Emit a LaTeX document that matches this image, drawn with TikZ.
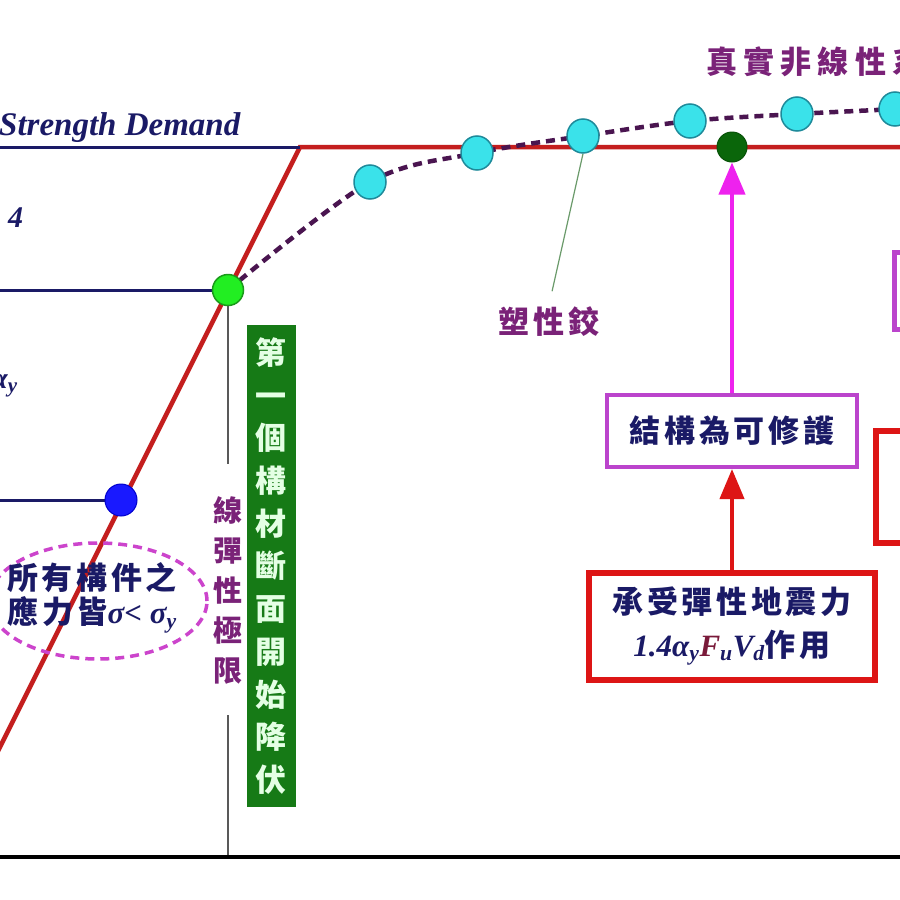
\RequirePackage{fix-cm}
\documentclass[tikz,border=0pt]{standalone}
\usepackage{fontspec}
\setmainfont{Liberation Serif}
\newfontfamily\cjk{Noto Sans CJK TC}
\usetikzlibrary{arrows.meta,shapes.geometric,backgrounds}
\definecolor{navy}{HTML}{1A1A66}
\definecolor{redline}{HTML}{C41E1E}
\definecolor{purp}{HTML}{7A2278}
\definecolor{dashpurp}{HTML}{4A1550}
\definecolor{cyanf}{HTML}{3AE2EA}
\definecolor{cyand}{HTML}{1E8A9A}
\definecolor{lgreen}{HTML}{22EE22}
\definecolor{lgreend}{HTML}{1A9A1A}
\definecolor{dgreen}{HTML}{167A16}
\definecolor{dkgreen}{HTML}{0A660A}
\definecolor{gtext}{HTML}{E4FFE4}
\definecolor{magarrow}{HTML}{EE22EE}
\definecolor{magbox}{HTML}{BB44CC}
\definecolor{boxred}{HTML}{DD1515}
\definecolor{ellmag}{HTML}{CC44CC}
\definecolor{Fmar}{HTML}{7A1A3A}
\definecolor{leadc}{HTML}{6A9A6A}
\begin{document}
\begin{tikzpicture}[x=1pt,y=-1pt,
  redl/.style={draw=redline, line width=4.5pt},
  navyl/.style={draw=navy, line width=3pt},
  grayl/.style={draw=black!65, line width=1.5pt},
  hinge/.style={ellipse, draw=cyand, line width=1.5pt, fill=cyanf, minimum width=32pt, minimum height=34pt, inner sep=0pt},
  hz/.style={font=\cjk\bfseries\fontsize{31}{34}\selectfont\addfontfeature{LetterSpace=12}},
  vz/.style={font=\cjk\bfseries\fontsize{30}{40}\selectfont, align=center, inner sep=0pt},
  latin/.style={font=\bfseries\itshape\fontsize{30}{34}\selectfont, text=navy},
  boxtext/.style={text=navy, align=center, font=\fontsize{31}{43}\selectfont},
]
\useasboundingbox (0,0) rectangle (900,900);

% circles
\node[circle, draw=lgreend, line width=1.5pt, fill=lgreen, minimum size=31pt, inner sep=0pt] (g1) at (228,290) {};
\node[circle, draw=blue!80!black, line width=1pt, fill=blue!90!white, minimum size=32pt, inner sep=0pt] (b1) at (121,500) {};
\node[hinge] (h1) at (370,182) {};
\node[hinge] (h2) at (477,153) {};
\node[hinge] (h3) at (583,136) {};
\node[hinge] (h4) at (690,121) {};
\node[hinge] (h5) at (797,114) {};
\node[hinge] (h6) at (895,109) {};
\node[circle, draw=dkgreen!80!black, line width=1pt, fill=dkgreen, minimum size=30pt, inner sep=0pt] (dg) at (732,147) {};

% coordinates
\coordinate (yk) at (300,147);
\coordinate (rl0) at (-20,787);
\coordinate (rlE) at (920,147);
\coordinate (n1) at (0,147);
\coordinate (n2) at (0,290);
\coordinate (n3) at (0,500);
\coordinate (gv1) at (228,464);
\coordinate (gv2) at (228,715);
\coordinate (gv3) at (228,857);
\coordinate (ax0) at (0,857);
\coordinate (ax1) at (900,857);
\coordinate (cend) at (930,106);

% texts
\node[latin, font=\bfseries\itshape\fontsize{33}{36}\selectfont, anchor=base west, inner sep=0pt] (sd) at (-1,135) {Strength Demand};
\node[latin, anchor=base west, inner sep=0pt] (four) at (8,227) {4};
\node[latin, anchor=base west, inner sep=0pt] (ay) at (-9,388) {α\textsubscript{y}};

\node[hz, text=purp, anchor=west, inner sep=0pt, font=\cjk\bfseries\fontsize{31}{34}\selectfont\addfontfeature{LetterSpace=20}] (title) at (706,62) {真實非線性系};
\node[hz, text=purp, inner sep=2pt] (plabel) at (549,322) {塑性鉸};

\node[vz, fill=dgreen, text=gtext, minimum width=49pt, minimum height=482pt, font=\cjk\bfseries\fontsize{31}{42.7}\selectfont] (gbox) at (271,566) {第\\一\\個\\構\\材\\斷\\面\\開\\始\\降\\伏};
\node[vz, text=purp, font=\cjk\bfseries\fontsize{29}{40}\selectfont] (elim) at (228,590) {線\\彈\\性\\極\\限};

\node[ellipse, draw=ellmag, line width=3.5pt, dash pattern=on 9pt off 6pt, minimum width=218pt, minimum height=116pt] (ell) at (98,601) {};
\node[text=navy, align=center, inner sep=0pt, font=\fontsize{31}{34}\selectfont] (elltext) at (92,598) {{\cjk\bfseries\addfontfeature{LetterSpace=12}所有構件之}\\{\cjk\bfseries\addfontfeature{LetterSpace=12}應力皆}{\bfseries\itshape σ< σ\textsubscript{y}}};

\node[draw=magbox, line width=4pt, minimum width=250pt, minimum height=72pt, boxtext] (box1) at (732,431) {{\cjk\bfseries\addfontfeature{LetterSpace=12}結構為可修護}};
\node[draw=boxred, line width=6pt, minimum width=286pt, minimum height=107pt, boxtext] (box2) at (732,626) {{\cjk\bfseries\addfontfeature{LetterSpace=12}承受彈性地震力}\\{\bfseries\itshape 1.4α\textsubscript{y}\textcolor{Fmar}{F}\textsubscript{u}V\textsubscript{d}}{\cjk\bfseries\addfontfeature{LetterSpace=12}作用}};

\node[draw=magbox, line width=4.5pt, minimum width=40pt, minimum height=77pt, anchor=north west] (pbox1) at (892,250) {};
\node[draw=boxred, line width=6pt, minimum width=60pt, minimum height=112pt, anchor=north west] (pbox2) at (873,428) {};

% arrows
\draw[magarrow, line width=4pt, -{Triangle[length=32pt,width=26pt]}] (box1.north) -- (dg.south);
\draw[boxred, line width=4pt, -{Triangle[length=30pt,width=24pt]}] (box2.north) -- (box1.south);

\begin{pgfonlayer}{background}
\fill[white] (0,0) rectangle (900,900);
\draw[redl] (rl0) -- (yk) -- (rlE);
\draw[navyl] (n1) -- (yk);
\draw[navyl] (n2) -- (g1.center);
\draw[navyl] (n3) -- (b1.center);
\draw[grayl] (g1.center) -- (gv1);
\draw[grayl] (gv2) -- (gv3);
\draw[black, line width=4pt] (ax0) -- (ax1);
\draw[dashpurp, line width=4.5pt, dash pattern=on 9pt off 6pt] plot[smooth, tension=0.55] coordinates {(g1.center) (h1.center) (h2.center) (h3.center) (h4.center) (h5.center) (h6.center) (cend)};
\draw[leadc, line width=1.2pt, shorten >=14pt] (h3.south) -- (plabel.north);
\end{pgfonlayer}
\end{tikzpicture}
\end{document}
